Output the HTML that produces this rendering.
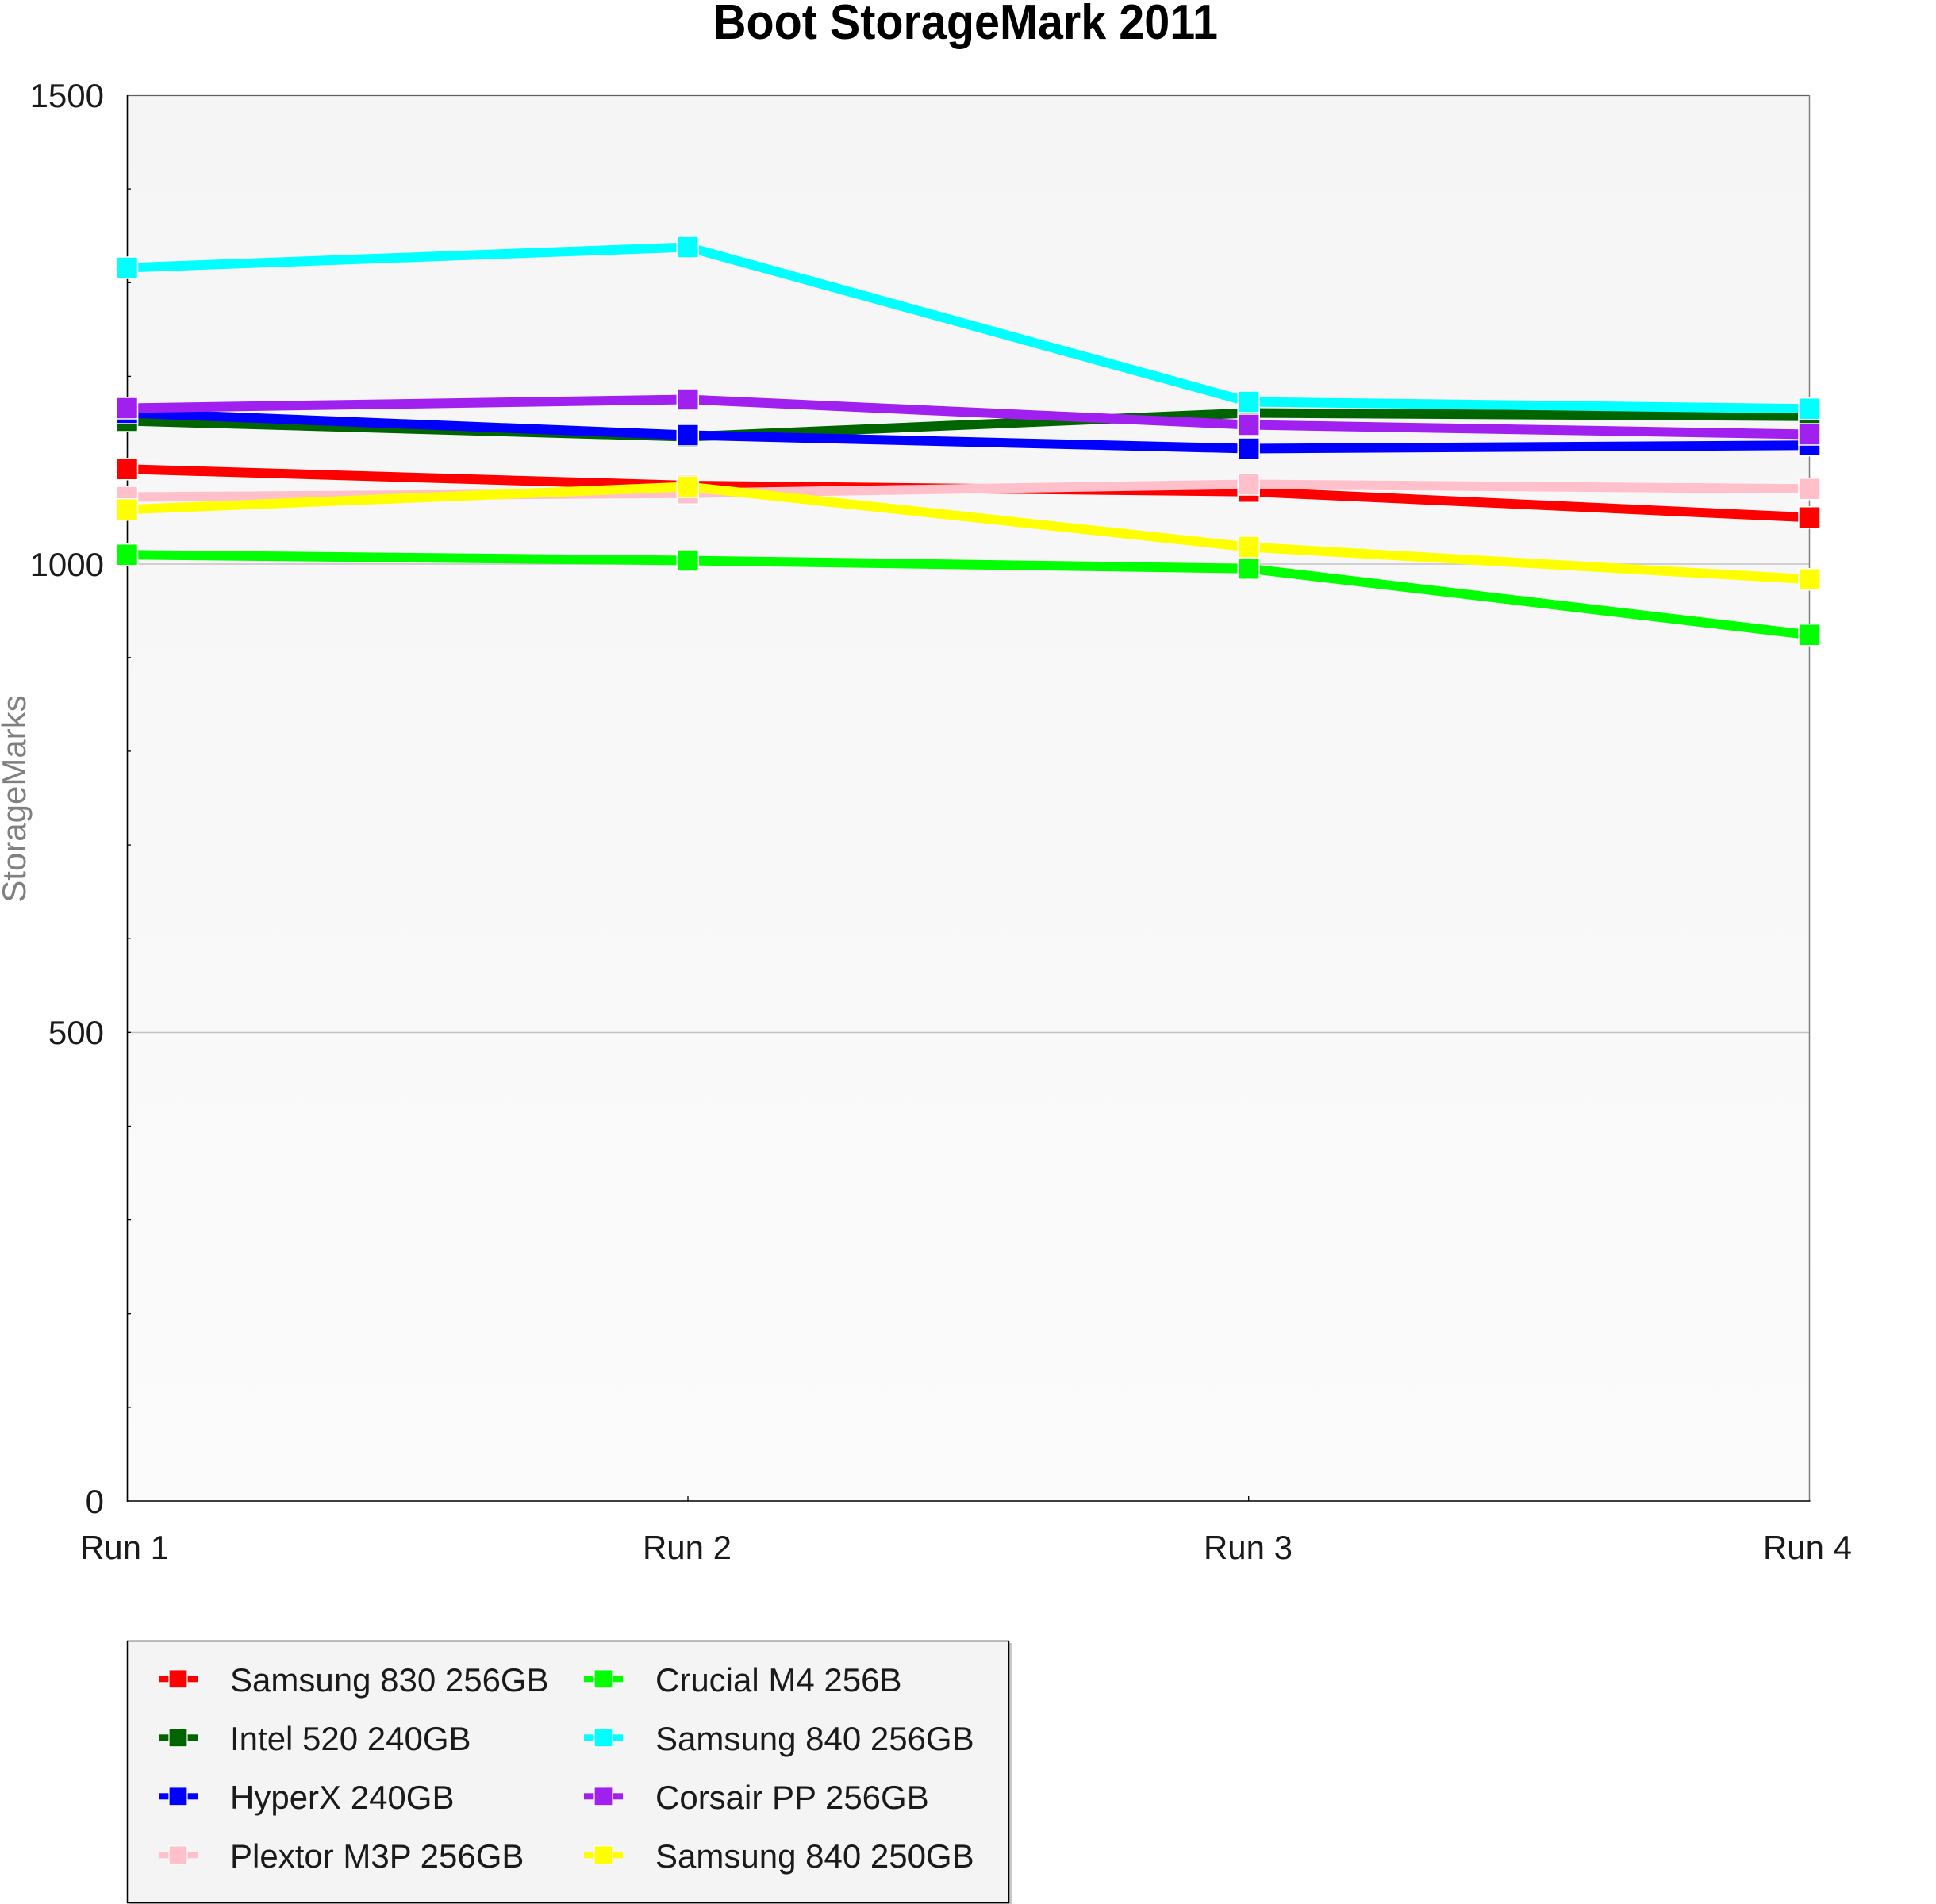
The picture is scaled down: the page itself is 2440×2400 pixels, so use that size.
<!DOCTYPE html>
<html>
<head>
<meta charset="utf-8">
<style>
  html,body{margin:0;padding:0;background:#ffffff;}
  svg{display:block;}
  text{font-family:"Liberation Sans", Arial, sans-serif;}
</style>
</head>
<body>
<svg width="2440" height="2400" viewBox="0 0 2440 2400" xmlns="http://www.w3.org/2000/svg">
  <defs>
    <linearGradient id="bg" x1="0" y1="0" x2="0" y2="1">
      <stop offset="0" stop-color="#f5f5f5"/>
      <stop offset="1" stop-color="#fbfbfb"/>
    </linearGradient>
  </defs>
  <rect x="0" y="0" width="2440" height="2400" fill="#ffffff"/>

  <!-- Title -->
  <text x="1217" y="49" font-size="62" font-weight="bold" fill="#000" text-anchor="middle" textLength="636" lengthAdjust="spacingAndGlyphs">Boot StorageMark 2011</text>

  <!-- Plot background -->
  <rect x="160" y="120" width="2121" height="1772" fill="url(#bg)"/>

  <!-- gridlines -->
  <line x1="160" y1="711" x2="2281" y2="711" stroke="#c4c4c4" stroke-width="1.5"/>
  <line x1="160" y1="1301.5" x2="2281" y2="1301.5" stroke="#c4c4c4" stroke-width="1.5"/>

  <!-- borders -->
  <line x1="160" y1="120.5" x2="2281" y2="120.5" stroke="#606060" stroke-width="1.2"/>
  <line x1="2280.5" y1="120" x2="2280.5" y2="1892" stroke="#808080" stroke-width="1.5"/>
  <line x1="160.5" y1="120" x2="160.5" y2="1893" stroke="#000" stroke-width="1.6"/>
  <line x1="160" y1="1892" x2="2281.5" y2="1892" stroke="#000" stroke-width="1.6"/>

  <!-- y minor ticks every 100 -->
  <g stroke="#000" stroke-width="1.3">
    <line x1="160" y1="238.1" x2="165" y2="238.1"/>
    <line x1="160" y1="356.3" x2="165" y2="356.3"/>
    <line x1="160" y1="474.4" x2="165" y2="474.4"/>
    <line x1="160" y1="592.5" x2="165" y2="592.5"/>
    <line x1="160" y1="710.7" x2="165" y2="710.7"/>
    <line x1="160" y1="828.8" x2="165" y2="828.8"/>
    <line x1="160" y1="946.9" x2="165" y2="946.9"/>
    <line x1="160" y1="1065.1" x2="165" y2="1065.1"/>
    <line x1="160" y1="1183.2" x2="165" y2="1183.2"/>
    <line x1="160" y1="1301.3" x2="165" y2="1301.3"/>
    <line x1="160" y1="1419.5" x2="165" y2="1419.5"/>
    <line x1="160" y1="1537.6" x2="165" y2="1537.6"/>
    <line x1="160" y1="1655.7" x2="165" y2="1655.7"/>
    <line x1="160" y1="1773.9" x2="165" y2="1773.9"/>
    <!-- x ticks -->
    <line x1="867" y1="1886" x2="867" y2="1892"/>
    <line x1="1573.7" y1="1886" x2="1573.7" y2="1892"/>
  </g>

  <!-- y labels -->
  <g font-size="42" fill="#1a1a1a" text-anchor="end">
    <text x="131" y="135">1500</text>
    <text x="131" y="726">1000</text>
    <text x="131" y="1316">500</text>
    <text x="131" y="1907">0</text>
  </g>

  <!-- x labels -->
  <g font-size="42" fill="#1a1a1a" text-anchor="middle">
    <text x="157" y="1965">Run 1</text>
    <text x="866" y="1965">Run 2</text>
    <text x="1573" y="1965">Run 3</text>
    <text x="2278" y="1965">Run 4</text>
  </g>

  <!-- y axis title -->
  <text transform="translate(32,1007) rotate(-90)" font-size="42" fill="#808080" text-anchor="middle">StorageMarks</text>

  <!-- Series -->
  <g stroke-width="12" fill="none" stroke-linejoin="round">
    <!-- Samsung 830 red -->
    <polyline points="160,591.3 866.8,612 1573.7,619.7 2280.5,652.3" stroke="#ff0000"/>
    <g fill="#ff0000" stroke="#ffffff" stroke-width="1.5">
      <rect x="146.5" y="577.8" width="27" height="27"/>
      <rect x="853.3" y="598.5" width="27" height="27"/>
      <rect x="1560.2" y="606.2" width="27" height="27"/>
      <rect x="2267" y="638.8" width="27" height="27"/>
    </g>
    <!-- Intel 520 dark green -->
    <polyline points="160,530.5 866.8,550.5 1573.7,520.5 2280.5,524.7" stroke="#006400"/>
    <g fill="#006400" stroke="#ffffff" stroke-width="1.5">
      <rect x="146.5" y="517" width="27" height="27"/>
      <rect x="853.3" y="537" width="27" height="27"/>
      <rect x="1560.2" y="507" width="27" height="27"/>
      <rect x="2267" y="511.2" width="27" height="27"/>
    </g>
    <!-- HyperX blue -->
    <polyline points="160,520.5 866.8,548.5 1573.7,565.5 2280.5,561.3" stroke="#0000ff"/>
    <g fill="#0000ff" stroke="#ffffff" stroke-width="1.5">
      <rect x="146.5" y="507" width="27" height="27"/>
      <rect x="853.3" y="535" width="27" height="27"/>
      <rect x="1560.2" y="552" width="27" height="27"/>
      <rect x="2267" y="547.8" width="27" height="27"/>
    </g>
    <!-- Plextor pink -->
    <polyline points="160,626.5 866.8,621.7 1573.7,610.5 2280.5,616.3" stroke="#ffc0cb"/>
    <g fill="#ffc0cb" stroke="#ffffff" stroke-width="1.5">
      <rect x="146.5" y="613" width="27" height="27"/>
      <rect x="853.3" y="608.2" width="27" height="27"/>
      <rect x="1560.2" y="597" width="27" height="27"/>
      <rect x="2267" y="602.8" width="27" height="27"/>
    </g>
    <!-- Crucial M4 lime -->
    <polyline points="160,699.3 866.8,706.5 1573.7,716.7 2280.5,800.3" stroke="#00ff00"/>
    <g fill="#00ff00" stroke="#ffffff" stroke-width="1.5">
      <rect x="146.5" y="685.8" width="27" height="27"/>
      <rect x="853.3" y="693" width="27" height="27"/>
      <rect x="1560.2" y="703.2" width="27" height="27"/>
      <rect x="2267" y="786.8" width="27" height="27"/>
    </g>
    <!-- Samsung 840 256GB cyan -->
    <polyline points="160,337.5 866.8,311.5 1573.7,506.5 2280.5,515.3" stroke="#00ffff"/>
    <g fill="#00ffff" stroke="#ffffff" stroke-width="1.5">
      <rect x="146.5" y="324" width="27" height="27"/>
      <rect x="853.3" y="298" width="27" height="27"/>
      <rect x="1560.2" y="493" width="27" height="27"/>
      <rect x="2267" y="501.8" width="27" height="27"/>
    </g>
    <!-- Corsair PP purple -->
    <polyline points="160,514.5 866.8,503.5 1573.7,535.5 2280.5,547.5" stroke="#a020f0"/>
    <g fill="#a020f0" stroke="#ffffff" stroke-width="1.5">
      <rect x="146.5" y="501" width="27" height="27"/>
      <rect x="853.3" y="490" width="27" height="27"/>
      <rect x="1560.2" y="522" width="27" height="27"/>
      <rect x="2267" y="534" width="27" height="27"/>
    </g>
    <!-- Samsung 840 250GB yellow -->
    <polyline points="160,642.3 866.8,613.5 1573.7,689.5 2280.5,730.3" stroke="#ffff00"/>
    <g fill="#ffff00" stroke="#ffffff" stroke-width="1.5">
      <rect x="146.5" y="628.8" width="27" height="27"/>
      <rect x="853.3" y="600" width="27" height="27"/>
      <rect x="1560.2" y="676" width="27" height="27"/>
      <rect x="2267" y="716.8" width="27" height="27"/>
    </g>
  </g>

  <!-- Legend -->
  <rect x="163" y="2071" width="1112" height="332" fill="#c8c8c8"/>
  <rect x="160.5" y="2068.5" width="1111" height="330" fill="#f4f4f4" stroke="#000" stroke-width="1.5"/>

  <g stroke="#ffffff" stroke-width="1.2">
    <!-- col 1 -->
    <rect x="200" y="2112.3" width="49" height="8" fill="#ff0000" stroke="none"/>
    <rect x="213" y="2104.8" width="23" height="23" fill="#ff0000"/>
    <rect x="200" y="2186.3" width="49" height="8" fill="#006400" stroke="none"/>
    <rect x="213" y="2178.8" width="23" height="23" fill="#006400"/>
    <rect x="200" y="2260.3" width="49" height="8" fill="#0000ff" stroke="none"/>
    <rect x="213" y="2252.8" width="23" height="23" fill="#0000ff"/>
    <rect x="200" y="2334.3" width="49" height="8" fill="#ffc0cb" stroke="none"/>
    <rect x="213" y="2326.8" width="23" height="23" fill="#ffc0cb"/>
    <!-- col 2 -->
    <rect x="736" y="2112.3" width="49" height="8" fill="#00ff00" stroke="none"/>
    <rect x="749" y="2104.8" width="23" height="23" fill="#00ff00"/>
    <rect x="736" y="2186.3" width="49" height="8" fill="#00ffff" stroke="none"/>
    <rect x="749" y="2178.8" width="23" height="23" fill="#00ffff"/>
    <rect x="736" y="2260.3" width="49" height="8" fill="#a020f0" stroke="none"/>
    <rect x="749" y="2252.8" width="23" height="23" fill="#a020f0"/>
    <rect x="736" y="2334.3" width="49" height="8" fill="#ffff00" stroke="none"/>
    <rect x="749" y="2326.8" width="23" height="23" fill="#ffff00"/>
  </g>

  <g font-size="42" fill="#1a1a1a">
    <text x="290" y="2132">Samsung 830 256GB</text>
    <text x="290" y="2206">Intel 520 240GB</text>
    <text x="290" y="2280">HyperX 240GB</text>
    <text x="290" y="2354">Plextor M3P 256GB</text>
    <text x="826" y="2132">Crucial M4 256B</text>
    <text x="826" y="2206">Samsung 840 256GB</text>
    <text x="826" y="2280">Corsair PP 256GB</text>
    <text x="826" y="2354">Samsung 840 250GB</text>
  </g>
</svg>
</body>
</html>
